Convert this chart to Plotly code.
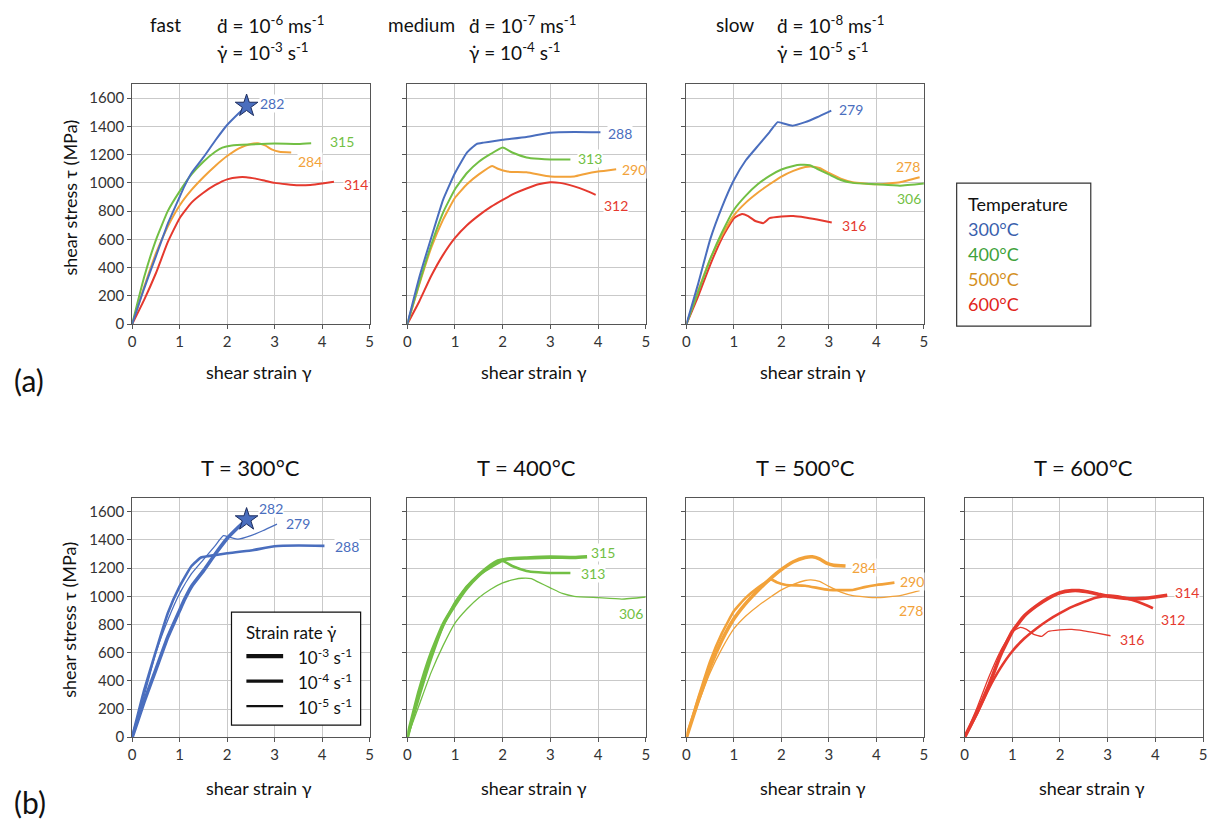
import plotly.graph_objects as go

# ---------------- data (shear strain, shear stress MPa) ----------------
# 300 °C
x_282 = [0, 0.1, 0.25, 0.5, 0.75, 1.0, 1.1, 1.25, 1.5, 1.75, 2.0, 2.25, 2.41]
y_282 = [0, 100, 250, 480, 710, 900, 975, 1070, 1180, 1300, 1410, 1495, 1545]
x_288 = [0, 0.25, 0.5, 0.75, 1.0, 1.25, 1.45, 1.6, 1.8, 2.0, 2.5, 3.0, 3.5, 4.05]
y_288 = [0, 330, 610, 880, 1070, 1215, 1275, 1285, 1295, 1305, 1325, 1355, 1360, 1358]
x_279 = [0, 0.25, 0.5, 0.75, 1.0, 1.25, 1.5, 1.75, 1.92, 2.05, 2.23, 2.5, 2.75, 3.05]
y_279 = [0, 290, 600, 830, 1020, 1160, 1260, 1360, 1430, 1420, 1405, 1430, 1465, 1512]
# 400 °C
x_315 = [0, 0.25, 0.5, 0.75, 1.0, 1.25, 1.5, 1.75, 1.9, 2.1, 2.5, 3.0, 3.5, 3.77]
y_315 = [0, 330, 595, 800, 940, 1060, 1150, 1220, 1250, 1265, 1272, 1278, 1275, 1280]
x_313 = [0, 0.25, 0.5, 0.75, 1.0, 1.25, 1.5, 1.75, 2.0, 2.2, 2.5, 2.75, 3.0, 3.42]
y_313 = [0, 290, 560, 790, 955, 1070, 1150, 1205, 1250, 1215, 1180, 1170, 1165, 1165]
x_306 = [0, 0.25, 0.5, 0.75, 1.0, 1.25, 1.5, 1.75, 2.0, 2.25, 2.4, 2.6, 2.75, 3.0, 3.25, 3.5, 4.0, 4.5, 5.0]
y_306 = [0, 230, 460, 650, 810, 910, 990, 1050, 1095, 1120, 1128, 1125, 1100, 1060, 1020, 1000, 990, 980, 995]
# 500 °C
x_284 = [0, 0.25, 0.5, 0.75, 1.0, 1.25, 1.5, 1.75, 2.0, 2.25, 2.5, 2.65, 2.8, 2.95, 3.1, 3.35]
y_284 = [0, 260, 500, 690, 840, 950, 1040, 1120, 1190, 1245, 1275, 1280, 1265, 1235, 1220, 1215]
x_290 = [0, 0.25, 0.5, 0.75, 1.0, 1.25, 1.5, 1.78, 1.9, 2.1, 2.5, 3.0, 3.5, 3.75, 4.0, 4.38]
y_290 = [0, 280, 540, 740, 895, 990, 1060, 1120, 1100, 1080, 1075, 1045, 1045, 1065, 1080, 1097]
x_278 = [0, 0.25, 0.5, 0.75, 1.0, 1.25, 1.5, 1.75, 2.0, 2.25, 2.5, 2.62, 2.8, 3.0, 3.25, 3.5, 4.0, 4.5, 4.91]
y_278 = [0, 240, 460, 630, 770, 860, 930, 990, 1045, 1085, 1112, 1116, 1105, 1070, 1030, 1005, 990, 1005, 1040]
# 600 °C
x_314 = [0, 0.25, 0.5, 0.75, 1.0, 1.25, 1.5, 1.75, 2.0, 2.25, 2.4, 2.6, 2.8, 3.0, 3.25, 3.5, 3.75, 4.0, 4.25]
y_314 = [0, 170, 360, 580, 750, 860, 930, 985, 1025, 1040, 1040, 1030, 1015, 1000, 990, 983, 985, 995, 1008]
x_312 = [0, 0.25, 0.5, 0.75, 1.0, 1.25, 1.5, 1.75, 2.0, 2.25, 2.5, 2.75, 3.0, 3.2, 3.5, 3.75, 3.95]
y_312 = [0, 160, 340, 490, 610, 700, 770, 830, 880, 925, 960, 990, 1005, 1000, 975, 945, 915]
x_316 = [0, 0.25, 0.5, 0.75, 1.0, 1.17, 1.3, 1.45, 1.62, 1.75, 2.0, 2.25, 2.5, 2.75, 3.06]
y_316 = [0, 200, 420, 610, 750, 780, 765, 730, 715, 750, 762, 765, 755, 740, 720]

x_ticks = [0, 1, 2, 3, 4, 5]
y_ticks = [0, 200, 400, 600, 800, 1000, 1200, 1400, 1600]

temperatures = ["300°C", "400°C", "500°C", "600°C"]
rate_titles = ["fast", "medium", "slow"]
d_rates = ["10<sup>-6</sup> ms<sup>-1</sup>", "10<sup>-7</sup> ms<sup>-1</sup>", "10<sup>-8</sup> ms<sup>-1</sup>"]
g_rates = ["10<sup>-3</sup> s<sup>-1</sup>", "10<sup>-4</sup> s<sup>-1</sup>", "10<sup>-5</sup> s<sup>-1</sup>"]

# ---------------- styling ----------------
W, H = 1211, 831
FONT = "Lato"
C = {"300": "#4A6EBE", "400": "#72BF44", "500": "#F2A23A", "600": "#E5392E"}
LEG_C = ["#3A5FAD", "#3FA23B", "#D4901F", "#E1251B"]
RATE_W = [3.6, 2.6, 1.3]
YS = 1.01  # slight vertical stretch of layout positions

def px(x):
    return x / W

def py(y):
    return 1 - (y * YS) / H

top_x = [(129, 368), (406, 646), (687, 926)]
top_y = (84, 324)
bot_x = [(129, 368), (406, 646), (687, 926), (967, 1207)]
bot_y = (497.5, 737)

fig = go.Figure()
layout = dict(width=W, height=H, margin=dict(l=0, r=0, t=0, b=0),
              paper_bgcolor="white", plot_bgcolor="white", showlegend=False,
              font=dict(family=FONT, color="#222"))

panels = [(xd, top_y) for xd in top_x] + [(xd, bot_y) for xd in bot_x]
for i, (xd, yd) in enumerate(panels):
    n = "" if i == 0 else str(i + 1)
    first = i in (0, 3)
    layout["xaxis" + n] = dict(domain=[px(xd[0]), px(xd[1])], range=[0, 5], anchor="y" + n,
                               tickvals=x_ticks, showgrid=True, gridcolor="#c9c9c9", gridwidth=1,
                               showline=True, linecolor="#555", linewidth=1, mirror=True,
                               ticks="outside", ticklen=4, tickcolor="#555", zeroline=False,
                               tickfont=dict(family=FONT, size=15, color="#333"))
    layout["yaxis" + n] = dict(domain=[py(yd[1]), py(yd[0])], range=[0, 1700], anchor="x" + n,
                               tickvals=y_ticks, showgrid=True, gridcolor="#c9c9c9", gridwidth=1,
                               showline=True, linecolor="#555", linewidth=1, mirror=True,
                               ticks="outside", ticklen=4, tickcolor="#555", zeroline=False,
                               showticklabels=first,
                               tickfont=dict(family=FONT, size=15, color="#333"))

def ax(i):
    return ("x" if i == 0 else "x" + str(i + 1)), ("y" if i == 0 else "y" + str(i + 1))

def line(i, xs, ys, color, w):
    xa, ya = ax(i)
    fig.add_trace(go.Scatter(x=xs, y=ys, mode="lines",
                             line=dict(color=color, width=w, shape="spline", smoothing=0.4),
                             xaxis=xa, yaxis=ya, hoverinfo="skip"))

def star(i, xs, ys):
    xa, ya = ax(i)
    fig.add_trace(go.Scatter(x=[xs[-1]], y=[ys[-1]], mode="markers",
                             marker=dict(symbol="star", size=17, color=C["300"],
                                         line=dict(color="#1d2d5e", width=1)),
                             xaxis=xa, yaxis=ya, hoverinfo="skip"))

ann = []

def label(i, x, y, text, color):
    xa, ya = ax(i)
    ann.append(dict(x=x, y=y, xref=xa, yref=ya, text=text, showarrow=False, xanchor="left",
                    yanchor="middle", bgcolor="white", borderpad=0,
                    font=dict(family=FONT, size=14, color=color)))

# ---- top row: by strain rate ----
top_sets = [
    [(x_284, y_284, "500"), (x_314, y_314, "600"), (x_315, y_315, "400"), (x_282, y_282, "300")],
    [(x_312, y_312, "600"), (x_290, y_290, "500"), (x_313, y_313, "400"), (x_288, y_288, "300")],
    [(x_316, y_316, "600"), (x_278, y_278, "500"), (x_306, y_306, "400"), (x_279, y_279, "300")],
]
for i, s in enumerate(top_sets):
    for xs, ys, t in s:
        line(i, xs, ys, C[t], 2)
star(0, x_282, y_282)

label(0, 2.67, 1560, "282", C["300"]); label(0, 4.15, 1295, "315", C["400"])
label(0, 3.47, 1150, "284", C["500"]); label(0, 4.43, 990, "314", C["600"])
label(1, 4.18, 1352, "288", C["300"]); label(1, 3.56, 1170, "313", C["400"])
label(1, 4.48, 1093, "290", C["500"]); label(1, 4.1, 838, "312", C["600"])
label(2, 3.2, 1522, "279", C["300"]); label(2, 4.39, 1116, "278", C["500"])
label(2, 4.42, 892, "306", C["400"]); label(2, 3.26, 696, "316", C["600"])

# ---- bottom row: by temperature ----
bot_sets = [
    [(x_279, y_279), (x_288, y_288), (x_282, y_282)],
    [(x_306, y_306), (x_313, y_313), (x_315, y_315)],
    [(x_278, y_278), (x_290, y_290), (x_284, y_284)],
    [(x_316, y_316), (x_312, y_312), (x_314, y_314)],
]
tkeys = ["300", "400", "500", "600"]
for j, s in enumerate(bot_sets):
    for k, (xs, ys) in enumerate(s):
        line(3 + j, xs, ys, C[tkeys[j]], RATE_W[2 - k])
star(3, x_282, y_282)

label(3, 2.64, 1625, "282", C["300"]); label(3, 3.22, 1520, "279", C["300"]); label(3, 4.25, 1350, "288", C["300"])
label(4, 3.84, 1309, "315", C["400"]); label(4, 3.62, 1165, "313", C["400"]); label(4, 4.42, 877, "306", C["400"])
label(5, 3.47, 1203, "284", C["500"]); label(5, 4.48, 1104, "290", C["500"]); label(5, 4.46, 901, "278", C["500"])
label(6, 4.39, 1026, "314", C["600"]); label(6, 4.1, 837, "312", C["600"]); label(6, 3.24, 691, "316", C["600"])

def ptext(x, y, text, size, color="#111", xanchor="left", angle=0):
    ann.append(dict(x=px(x), y=py(y), xref="paper", yref="paper", text=text, showarrow=False,
                    xanchor=xanchor, yanchor="middle", textangle=angle,
                    font=dict(family=FONT, size=size, color=color)))

# top titles
title_word_right = [180, 456, 757]
title_eq_left = [212, 466, 776]
for k in range(3):
    ptext(title_word_right[k], 24, rate_titles[k], 19, xanchor="right")
    ptext(title_eq_left[k], 24, "ḋ = " + d_rates[k], 19)
    ptext(title_eq_left[k], 51, "γ̇ = " + g_rates[k], 19)

# bottom titles
for j, xd in enumerate(bot_x):
    ptext((xd[0] + xd[1]) / 2, 467, "T = " + temperatures[j], 22, xanchor="center")

# axis titles
for xd in top_x:
    ptext((xd[0] + xd[1]) / 2 + 8, 372, "shear strain γ", 18, xanchor="center")
for xd in bot_x:
    ptext((xd[0] + xd[1]) / 2 + 8, 788, "shear strain γ", 18, xanchor="center")
ptext(66, 198, "shear stress τ (MPa)", 18, xanchor="center", angle=-90)
ptext(66, 620, "shear stress τ (MPa)", 18, xanchor="center", angle=-90)

ptext(8, 380, "(a)", 30)
ptext(8, 802, "(b)", 30)

# Temperature legend
shapes = [dict(type="rect", xref="paper", yref="paper", x0=px(959), x1=px(1094), y0=py(326), y1=py(183),
               line=dict(color="#333", width=1.2), fillcolor="white", layer="above")]
ptext(968, 204, "Temperature", 18)
for j, t in enumerate(temperatures):
    ptext(968, 229 + j * 25, t, 18, color=LEG_C[j])

# Strain rate legend
shapes.append(dict(type="rect", xref="paper", yref="paper", x0=px(229), x1=px(359), y0=py(725), y1=py(612),
                   line=dict(color="#111", width=1.2), fillcolor="white", layer="above"))
ptext(242, 632, "Strain rate γ̇", 17)
leg_w = [4.2, 3.3, 2.2]
for k in range(3):
    yy = 656 + k * 25
    shapes.append(dict(type="line", xref="paper", yref="paper", x0=px(244), x1=px(281), y0=py(yy), y1=py(yy),
                       line=dict(color="#111", width=leg_w[k]), layer="above"))
    ptext(294, yy, g_rates[k], 17)

layout["annotations"] = ann
layout["shapes"] = shapes
fig.update_layout(**layout)
fig.write_html("out.html", config={"displayModeBar": False},
               post_script="document.body.style.margin='0';document.body.style.padding='0';"
                           "document.body.style.overflow='hidden';")
